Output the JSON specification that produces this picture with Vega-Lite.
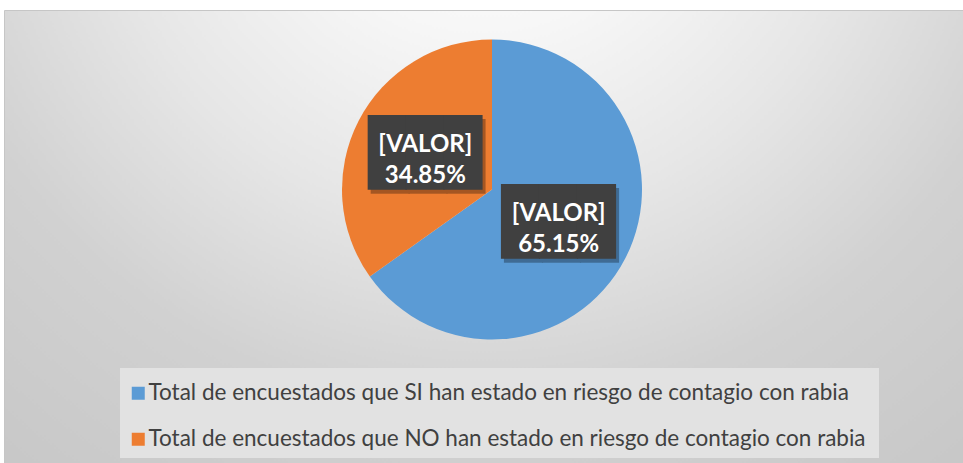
{
  "$schema": "https://vega.github.io/schema/vega-lite/v6.json",
  "autosize": {"type": "fit", "contains": "padding"},
  "width": 963,
  "height": 463,
  "padding": {"left": 4, "top": 10, "right": 0, "bottom": 0},
  "background": "#ffffff",
  "view": {
    "stroke": "#c6c6c6",
    "strokeWidth": 1,
    "fill": {
      "gradient": "radial",
      "x1": 0.5, "y1": 0.08, "r1": 0,
      "x2": 0.5, "y2": 0.08, "r2": 1,
      "stops": [
        {"offset": 0, "color": "#ffffff"},
        {"offset": 0.2, "color": "#f7f7f7"},
        {"offset": 0.4, "color": "#e6e6e6"},
        {"offset": 0.6, "color": "#d1d1d1"},
        {"offset": 1, "color": "#c0c0c0"}
      ]
    }
  },
  "data": {
    "values": [
      {"categoria": "Total de encuestados que SI han estado en riesgo de contagio con rabia", "porcentaje": 65.15, "etiqueta": "[VALOR]\n65.15%", "caja": "███", "orden": 1},
      {"categoria": "Total de encuestados  que NO han estado en riesgo de contagio con rabia", "porcentaje": 34.85, "etiqueta": "[VALOR]\n34.85%", "caja": "███", "orden": 2}
    ]
  },
  "encoding": {
    "theta": {"field": "porcentaje", "type": "quantitative", "stack": true},
    "order": {"field": "orden", "type": "quantitative"}
  },
  "layer": [
    {
      "mark": {"type": "arc", "outerRadius": 150, "xOffset": 8.5, "yOffset": -47},
      "encoding": {
        "color": {
          "field": "categoria",
          "type": "nominal",
          "scale": {
            "domain": ["Total de encuestados que SI han estado en riesgo de contagio con rabia", "Total de encuestados  que NO han estado en riesgo de contagio con rabia"],
            "range": ["#5b9bd5", "#ed7d31"]
          },
          "legend": {
            "title": "\u00a0",
            "titleFontSize": 4,
            "titlePadding": 3,
            "orient": "none",
            "legendX": 116,
            "legendY": 358,
            "direction": "vertical",
            "fillColor": "#e2e2e2",
            "padding": 7,
            "rowPadding": 23,
            "symbolType": "square",
            "symbolSize": 169,
            "symbolStrokeWidth": 0,
            "labelFont": "Lato",
            "labelFontSize": 22.5,
            "labelColor": "#404040",
            "labelLimit": 1000,
            "labelOffset": -1
          }
        }
      }
    },
    {
      "mark": {"type": "text", "font": "DejaVu Sans Mono", "fontSize": 63, "color": "#000000", "opacity": 0.3, "align": "center", "baseline": "middle", "xOffset": 11.5, "yOffset": -43},
      "encoding": {"radius": {"value": 75}, "text": {"field": "caja"}}
    },
    {
      "mark": {"type": "text", "font": "DejaVu Sans Mono", "fontSize": 63, "color": "#404040", "align": "center", "baseline": "middle", "xOffset": 8.5, "yOffset": -47},
      "encoding": {"radius": {"value": 75}, "text": {"field": "caja"}}
    },
    {
      "mark": {"type": "text", "font": "Lato", "fontWeight": "bold", "fontSize": 24, "color": "#ffffff", "align": "center", "baseline": "middle", "lineBreak": "\n", "lineHeight": 31, "xOffset": 8.5, "yOffset": -57},
      "encoding": {"radius": {"value": 75}, "text": {"field": "etiqueta"}}
    }
  ]
}
